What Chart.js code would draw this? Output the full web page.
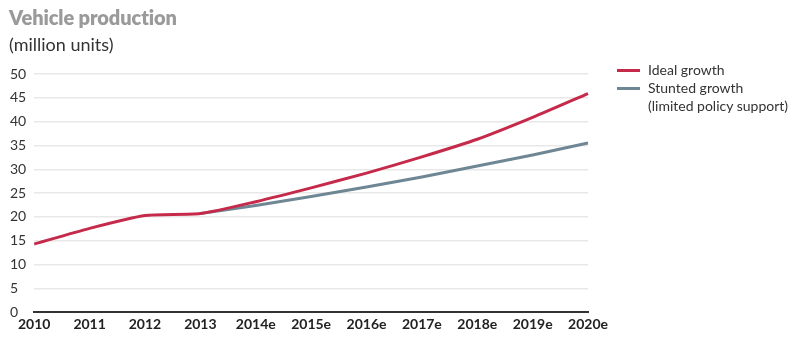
<!DOCTYPE html>
<html>
<head>
<meta charset="utf-8">
<script src="https://cdn.jsdelivr.net/npm/chart.js@4/dist/chart.umd.min.js"></script>
<style>
  html, body { margin: 0; padding: 0; background: #fff; }
  body { width: 789px; height: 338px; position: relative; overflow: hidden; font-family: Lato, "Open Sans", sans-serif; }
  #wrap { position: absolute; left: 0; top: 0; width: 789px; height: 338px; }
  .title { position: absolute; left: 9px; top: 5px; font-size: 20px; font-weight: 800; color: #9a9a9a; letter-spacing: -0.1px; }
  .sub { position: absolute; left: 9px; top: 33px; font-size: 18px; color: #333; }
  .legend { position: absolute; left: 617px; top: 61px; font-size: 14px; color: #333; line-height: 18px; }
  .legend .row { position: relative; padding-left: 31px; }
  .legend .sw { position: absolute; left: 0; top: 8px; width: 23px; height: 3px; }
</style>
</head>
<body>
<div id="wrap"><canvas id="chart" width="789" height="338"></canvas></div>
<div class="title">Vehicle production</div>
<div class="sub">(million units)</div>
<div class="legend">
  <div class="row"><span class="sw" style="background:#c62a4b"></span>Ideal growth</div>
  <div class="row"><span class="sw" style="background:#6f8794"></span>Stunted growth<br>(limited policy support)</div>
</div>
<script>
  const years = ['2010', '2011', '2012', '2013', '2014e', '2015e', '2016e', '2017e', '2018e', '2019e', '2020e'];
  const idealGrowth = [14.3, 17.6, 20.3, 20.7, 23.2, 26.1, 29.2, 32.6, 36.3, 40.9, 45.9];
  const stuntedGrowth = [null, null, null, 20.7, 22.4, 24.3, 26.3, 28.4, 30.7, 33.0, 35.5];
  const yTicks = [0, 5, 10, 15, 20, 25, 30, 35, 40, 45, 50];

  const red = '#c62a4b';
  const slate = '#6f8794';

  const ctx = document.getElementById('chart').getContext('2d');
  new Chart(ctx, {
    type: 'line',
    data: {
      labels: years,
      datasets: [
        { label: 'Ideal growth', data: idealGrowth, borderColor: red, borderWidth: 3, pointRadius: 0, tension: 0.2, order: 1 },
        { label: 'Stunted growth', data: stuntedGrowth, borderColor: slate, borderWidth: 3, pointRadius: 0, tension: 0.2, order: 2 }
      ]
    },
    options: {
      responsive: false,
      animation: false,
      layout: { padding: { left: 10, right: 201, top: 74, bottom: 1 } },
      plugins: { legend: { display: false }, tooltip: { enabled: false } },
      scales: {
        x: {
          offset: false,
          grid: { display: false, drawTicks: false },
          border: { color: '#333', width: 2 },
          ticks: { color: '#222', font: { family: 'Lato', size: 14, weight: 'bold' }, padding: 4, maxRotation: 0, autoSkip: false }
        },
        y: {
          min: 0, max: 50,
          afterBuildTicks: (axis) => { axis.ticks = yTicks.map(v => ({ value: v })); },
          grid: { color: (c) => c.tick && c.tick.value === 0 ? 'rgba(0,0,0,0)' : '#e8e8e8', lineWidth: 1.5, drawTicks: false },
          border: { display: false },
          ticks: { color: '#333', font: { family: 'Lato', size: 14 }, padding: 4, crossAlign: 'far' }
        }
      }
    }
  });
</script>
</body>
</html>
